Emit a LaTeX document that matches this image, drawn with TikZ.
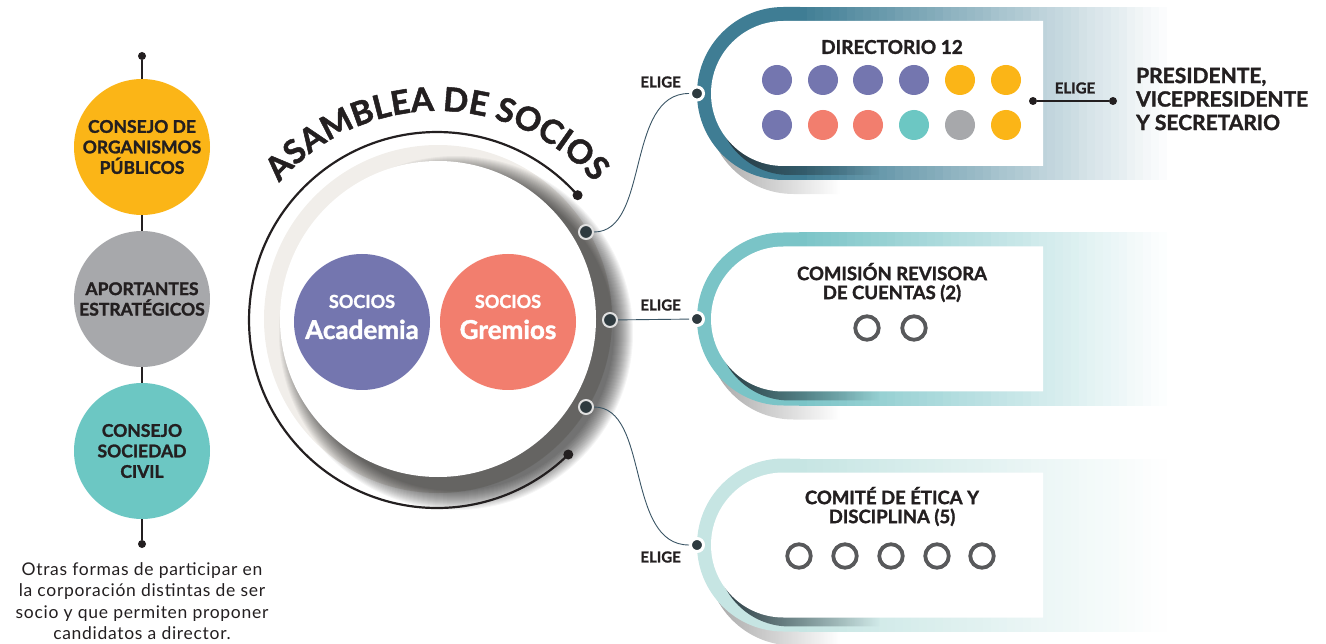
\documentclass[tikz,border=0pt]{standalone}
\usepackage{fontspec}
\setmainfont{Lato}
\newfontfamily\heavy{Lato}[BoldFeatures={FakeBold=1.5}]
\usetikzlibrary{decorations.text,fadings}
\definecolor{cYellow}{HTML}{FBB517}
\definecolor{cGray}{HTML}{A7A8AB}
\definecolor{cTeal}{HTML}{6CC7C3}
\definecolor{cPurple}{HTML}{7476AF}
\definecolor{cSalmon}{HTML}{F27E6E}
\definecolor{cText}{HTML}{231F20}
\definecolor{cDir}{HTML}{3F7D94}
\definecolor{cCom}{HTML}{7AC4C7}
\definecolor{cEti}{HTML}{C6E5E3}
\definecolor{cBeige}{HTML}{F1EEEA}
\definecolor{cLine}{HTML}{3A5565}
\definecolor{cDot}{HTML}{2E3A3F}
\definecolor{cRing}{HTML}{58595B}
\definecolor{cShad}{HTML}{26363D}
\tikzset{
 lcirc/.style={circle, minimum size=136, inner sep=0pt, align=center, text=cText, font=\fontsize{17.5}{20.5}\selectfont\heavy\bfseries},
 ldot/.style={circle, fill=cText, minimum size=8, inner sep=0pt},
 scirc/.style={circle, minimum size=136, inner sep=0pt},
 sotxt/.style={anchor=base, text=white, inner sep=0pt, font=\fontsize{18}{18}\selectfont\heavy\bfseries},
 bigtxt/.style={anchor=base, text=white, inner sep=0pt, font=\fontsize{26}{26}\selectfont\heavy\bfseries},
 cdot/.style={circle, fill=cDot, draw=black!12, line width=2, minimum size=14, inner sep=0pt},
 bdot/.style={circle, fill=cDot, draw=white, line width=3, minimum size=13, inner sep=0pt},
 sdot/.style={circle, fill=cText, minimum size=8, inner sep=0pt},
 mdot/.style={circle, minimum size=30, inner sep=0pt},
 ringc/.style={circle, draw=cRing, line width=3.8, minimum size=23.5, inner sep=0pt},
 elige/.style={text=cText, font=\fontsize{15}{15}\selectfont\heavy\bfseries, inner sep=0pt},
 htitle/.style={text=cText, align=center, font=\fontsize{18.5}{19}\selectfont\heavy\bfseries, inner sep=0pt},
 conn/.style={draw=cLine, line width=0.9},
}
\begin{document}
\begin{tikzpicture}[x=1pt,y=-1pt]
\useasboundingbox (0,0) rectangle (1326,644);

% ---------------- left column
\node[lcirc, fill=cYellow] (cop) at (142,147) {CONSEJO DE\\ORGANISMOS\\PÚBLICOS};
\node[lcirc, fill=cGray] (apo) at (142,299) {APORTANTES\\ESTRATÉGICOS};
\node[lcirc, fill=cTeal] (csc) at (142,451) {CONSEJO\\SOCIEDAD\\CIVIL};
\node[ldot] (ltop) at (142,56) {};
\node[ldot] (lbot) at (142,544) {};
\draw[cText, line width=2] (ltop) -- (cop);
\draw[cText, line width=2] (cop) -- (apo);
\draw[cText, line width=2] (apo) -- (csc);
\draw[cText, line width=2] (csc) -- (lbot);
\node[text=cText, align=center, inner sep=0pt, font=\fontsize{17.5}{21.3}\selectfont\addfontfeatures{LetterSpace=4}] (cap) at (142,601)
 {Otras formas de participar en\\la corporación distintas de ser\\socio y que permiten proponer\\candidatos a director.};

% ---------------- assembly circle
\fill[cBeige] (438,319) circle[radius=174];
\foreach \r in {158,159,...,177}{\fill[black, opacity=0.04] (456,333) circle[radius=\r];}
\node[circle, fill=white, minimum size=316, inner sep=0pt] (asm) at (438,319) {};
\draw[cText, line width=2.2] (577.6,195.2) arc[start angle=-41.6, end angle=-314.3, radius=188];
\node[ldot, minimum size=10] (arcA) at (577.6,195.2) {};
\node[ldot, minimum size=10] (arcB) at (568.3,454.5) {};
\path[decorate, decoration={text along path, text align=center,
  text={|\color{cText}\fontsize{33}{33}\selectfont\heavy\bfseries|ASAMBLEA DE SOCIOS}}]
  (437,320) ++(-148:209) arc[start angle=-148, end angle=-32, radius=209];

\node[scirc, fill=cPurple] (aca) at (362,322) {};
\node[scirc, fill=cSalmon] (gre) at (508,322) {};
\node[sotxt] (acaS) at (362,308) {SOCIOS};
\node[bigtxt] (acaT) at (362,339) {Academia};
\node[sotxt] (greS) at (508,308) {SOCIOS};
\node[bigtxt] (greT) at (508,339) {Gremios};

\node[cdot] (mt) at (586,232) {};
\node[cdot] (mm) at (610,320) {};
\node[cdot] (mb) at (586,407) {};

% ---------------- bands
\foreach \cy/\bc in {93.5/cDir,319/cCom,545/cEti}{
  \fill[black!60, opacity=0.6, path fading=east] (840,\cy-72.5) -- (793.5,\cy-72.5)
     arc[start angle=-90, end angle=-270, radius=86.5] -- (840,\cy+100.5) -- cycle;
  \fill[\bc] (800,\cy-86.5) -- (783.5,\cy-86.5)
     arc[start angle=-90, end angle=-270, radius=86.5] -- (800,\cy+86.5) -- cycle;
  \foreach \i in {0,...,46}{
    \pgfmathsetmacro\xa{799+\i*8}
    \pgfmathtruncatemacro\pp{100-\i*100/46}
    \fill[\bc!\pp!white] (\xa,\cy-86.5) rectangle (\xa+9,\cy+86.5);
  }
  \fill[cShad, path fading=east] (880,\cy-63.5) -- (789.5,\cy-63.5)
     arc[start angle=-90, end angle=-270, radius=72.5] -- (880,\cy+81.5) -- cycle;
  \fill[white] (1043,\cy-72.5) -- (783.5,\cy-72.5)
     arc[start angle=-90, end angle=-270, radius=72.5] -- (1043,\cy+72.5) -- cycle;
}

% band dots and connectors
\node[bdot] (dirDot) at (697,93.5) {};
\node[bdot] (comDot) at (697,319) {};
\node[bdot] (etiDot) at (697,545) {};
\draw[conn] (mt) .. controls (650,232) and (625,93.5) .. (dirDot);
\draw[conn] (mm) -- (comDot);
\draw[conn] (mb) .. controls (650,407) and (625,545) .. (etiDot);
\node[elige, anchor=east] (el1) at (681,82) {ELIGE};
\node[elige, anchor=east] (el2) at (681,305) {ELIGE};
\node[elige, anchor=east] (el3) at (681,557) {ELIGE};

% directorio
\node[htitle] (dirT) at (892,47) {\fontsize{19}{19}\selectfont DIRECTORIO 12};
\foreach \x/\c [count=\i] in {777/cPurple,823/cPurple,868/cPurple,914/cPurple,960/cYellow,1006/cYellow}
  {\node[mdot, fill=\c] (da\i) at (\x,80) {};}
\foreach \x/\c [count=\i] in {777/cPurple,823/cSalmon,868/cSalmon,914/cTeal,960/cGray,1006/cYellow}
  {\node[mdot, fill=\c] (db\i) at (\x,125) {};}

\node[sdot] (pe1) at (1033,101) {};
\node[sdot] (pe2) at (1113,101) {};
\draw[cText, line width=1.6] (pe1) -- (pe2);
\node[elige] (el4) at (1075,88) {ELIGE};
\node[anchor=west, align=left, text=cText, inner sep=0pt, font=\fontsize{21}{23.5}\selectfont\heavy\bfseries] (pres) at (1136,99)
  {PRESIDENTE,\\VICEPRESIDENTE\\Y SECRETARIO};

% comision
\node[htitle] (comT) at (892,282.5) {COMISIÓN REVISORA\\DE CUENTAS (2)};
\node[ringc] (cr1) at (867,328) {};
\node[ringc] (cr2) at (914,328) {};

% comite
\node[htitle] (etiT) at (892,506.5) {COMITÉ DE ÉTICA Y\\DISCIPLINA (5)};
\foreach \x [count=\i] in {799,845,891,937,982}
  {\node[ringc] (er\i) at (\x,556) {};}
\end{tikzpicture}
\end{document}
